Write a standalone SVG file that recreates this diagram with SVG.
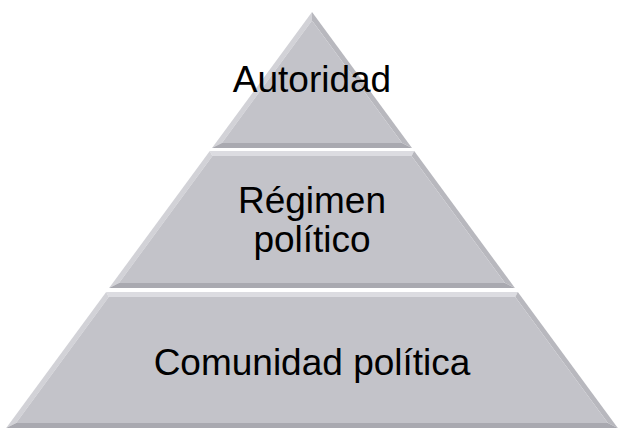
<svg xmlns="http://www.w3.org/2000/svg" width="623" height="439" viewBox="0 0 623 439">
<style>
.body{fill:#c3c3c9}
.bt{fill:#dcdce1}
.bl{fill:#d2d2d7}
.br{fill:#b8b8be}
.bb{fill:#a9a9b0}
.lbl{font-family:"Liberation Sans",Arial,sans-serif;font-size:37px;fill:#000;text-anchor:middle}
</style>
<rect width="623" height="439" fill="#fff"/>
<g id="autoridad">
<polygon class="bl" points="312,12 212,148 221.9,143 312,20.4"/>
<polygon class="br" points="312,12 412,148 402.1,143 312,20.4"/>
<polygon class="bb" points="212,148 412,148 402.1,143 221.9,143"/>
<polygon class="body" points="312,20.4 221.9,143 402.1,143"/>
<text class="lbl" x="312" y="92">Autoridad</text>
</g>
<g id="regimen">
<polygon class="bt" points="209.8,151 414.2,151 411.6,156 212.4,156"/>
<polygon class="bl" points="209.8,151 212.4,156 119,283 109.1,288"/>
<polygon class="br" points="414.2,151 411.6,156 505,283 514.9,288"/>
<polygon class="bb" points="109.1,288 514.9,288 505,283 119,283"/>
<polygon class="body" points="212.4,156 411.6,156 505,283 119,283"/>
<text class="lbl" x="312" y="213">Régimen</text>
<text class="lbl" x="312" y="252">político</text>
</g>
<g id="comunidad">
<polygon class="bt" points="106.2,292 517.8,292 515.3,297 108.7,297"/>
<polygon class="bl" points="106.2,292 108.7,297 16.1,423 6.2,428"/>
<polygon class="br" points="517.8,292 515.3,297 607.9,423 617.8,428"/>
<polygon class="bb" points="6.2,428 617.8,428 607.9,423 16.1,423"/>
<polygon class="body" points="108.7,297 515.3,297 607.9,423 16.1,423"/>
<text class="lbl" x="312" y="375">Comunidad política</text>
</g>
<g id="connectors"/>
</svg>
